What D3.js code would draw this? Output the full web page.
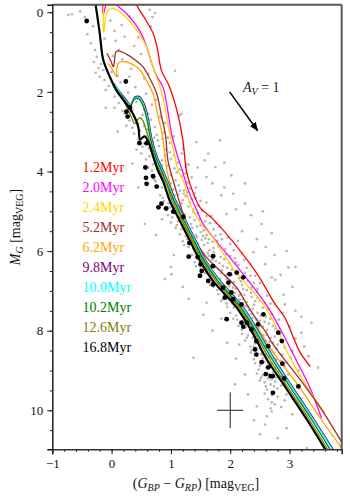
<!DOCTYPE html>
<html><head><meta charset="utf-8">
<script src="https://cdn.jsdelivr.net/npm/d3@7"></script>
<style>body{margin:0;background:#fff}svg{display:block}text{font-family:"Liberation Serif","DejaVu Serif",serif}</style>
</head><body><svg id="c" width="350" height="500"></svg>
<script>
// ---- data ----
const ages = ["1.2Myr","2.0Myr","2.4Myr","5.2Myr","6.2Myr","9.8Myr","10.0Myr","10.2Myr","12.6Myr","16.8Myr"];
const colors = ["#ff0000","#ff00ff","#ffd700","#a52a2a","#ffa500","#800080","#00ffff","#008000","#808000","#000000"];
const xTicks = [-1,0,1,2,3];
const yTicks = [0,2,4,6,8,10];

const iso1_2 = [[0.38,-0.6],[0.42,-0.2],[0.58,0.2],[0.7,0.53],[0.77,0.9],[0.84,1.46],[0.97,1.85],[1.1,2.46],[1.2,3.2],[1.26,3.97],[1.33,4.35],[1.49,4.9],[1.74,5.24],[2.42,6.5],[2.76,7.34],[2.92,7.67],[3.09,8.26],[3.18,8.55],[3.35,8.9]];
const iso2_0 = [[-0.16,-0.6],[-0.15,-0.1],[-0.14,0.06],[-0.12,-0.05],[-0.06,-0.35],[0.02,-0.4],[0.08,-0.2],[0.25,0.03],[0.4,0.3],[0.52,0.6],[0.61,0.95],[0.68,1.3],[0.76,1.6],[0.87,1.9],[0.95,2.5],[1.01,3.05],[1.1,3.55],[1.19,3.97],[1.3,4.5],[1.43,4.95],[1.545,5.32],[2.13,6.41],[2.64,7.42],[2.89,8.09],[3.12,8.76],[3.35,9.45],[3.54,10.2]];
const iso2_4 = [[-0.14,-0.6],[-0.14,0.0],[-0.14,0.45],[-0.13,0.5],[-0.1,0.1],[-0.06,-0.05],[0.0,-0.1],[0.1,-0.05],[0.2,0.07],[0.36,0.32],[0.53,0.7],[0.62,0.98],[0.68,1.3],[0.75,1.6],[0.81,1.85],[0.9,2.4],[0.98,3.05],[1.05,3.5],[1.12,3.97],[1.21,4.23],[1.32,4.8],[1.49,5.28],[1.7,5.65],[2.08,6.5],[2.56,7.34],[2.81,8.01],[2.95,8.5],[3.34,9.52],[3.6,10.07]];
const iso5_2 = [[-0.08,1.03],[-0.02,1.2],[0.03,1.37],[0.05,1.2],[0.07,1.0],[0.12,0.97],[0.25,1.05],[0.4,1.2],[0.53,1.37],[0.65,1.68],[0.76,2.04],[0.84,2.6],[0.91,3.1],[0.95,3.72],[1.07,4.39],[1.21,5.07],[1.38,5.66],[1.6,6.16],[1.77,6.41],[2.11,6.92],[2.28,7.34],[2.5,7.84],[2.59,8.01],[2.72,8.34],[3.2,9.27],[3.55,10.0],[3.92,10.9]];
const iso6_2 = [[-0.06,1.29],[0.02,1.45],[0.08,1.62],[0.09,1.4],[0.12,1.27],[0.25,1.25],[0.4,1.35],[0.48,1.45],[0.6,1.75],[0.7,2.05],[0.78,2.6],[0.85,3.05],[0.9,3.6],[0.93,3.95],[1.0,4.39],[1.15,5.07],[1.32,5.66],[1.53,6.16],[1.74,6.58],[2.03,7.08],[2.3,7.67],[2.5,8.01],[2.7,8.5],[3.18,9.44],[3.52,10.2],[3.88,10.95]];
const iso9_8 = [[0.04,1.79],[0.15,2.02],[0.26,2.22],[0.32,2.35],[0.35,2.24],[0.4,2.12],[0.47,2.12],[0.55,2.3],[0.62,2.68],[0.68,3.18],[0.77,3.63],[0.86,3.94],[0.96,4.29],[1.08,4.72],[1.25,5.23],[1.42,5.73],[1.59,6.23],[1.83,6.74],[2.22,7.41],[2.47,8.0],[2.73,8.67],[3.06,9.43],[3.42,10.24],[3.76,11.04]];
const iso10_0 = [[0.05,1.82],[0.15,2.05],[0.26,2.25],[0.32,2.38],[0.35,2.27],[0.4,2.15],[0.47,2.15],[0.54,2.33],[0.61,2.7],[0.67,3.2],[0.76,3.65],[0.85,3.95],[0.95,4.3],[1.07,4.73],[1.24,5.24],[1.41,5.74],[1.58,6.24],[1.82,6.75],[2.21,7.42],[2.46,8.01],[2.72,8.68],[3.05,9.44],[3.41,10.25],[3.75,11.05]];
const iso10_2 = [[0.04,1.84],[0.14,2.07],[0.25,2.27],[0.31,2.4],[0.34,2.3],[0.39,2.18],[0.46,2.18],[0.53,2.35],[0.6,2.73],[0.66,3.22],[0.75,3.67],[0.84,3.97],[0.93,4.3],[1.05,4.73],[1.22,5.24],[1.39,5.74],[1.56,6.24],[1.79,6.75],[2.18,7.42],[2.43,8.01],[2.69,8.68],[3.02,9.44],[3.38,10.25],[3.71,11.05]];
const iso12_6 = [[0.17,2.08],[0.26,2.4],[0.33,2.62],[0.39,2.8],[0.44,2.7],[0.48,2.65],[0.53,2.73],[0.58,2.95],[0.66,3.35],[0.74,3.75],[0.82,4.0],[0.91,4.25],[1.02,4.73],[1.19,5.24],[1.36,5.74],[1.53,6.24],[1.76,6.75],[2.15,7.42],[2.4,8.01],[2.65,8.68],[2.98,9.44],[3.34,10.25],[3.67,11.05]];
const iso16_8 = [[-0.31,-0.6],[-0.27,-0.2],[-0.2,0.53],[-0.14,1.2],[-0.03,1.62],[0.08,1.96],[0.2,2.21],[0.36,2.55],[0.45,2.88],[0.48,3.2],[0.52,3.15],[0.56,3.12],[0.62,3.26],[0.7,3.62],[0.78,3.97],[0.87,4.25],[0.98,4.73],[1.15,5.24],[1.32,5.74],[1.49,6.24],[1.71,6.75],[2.11,7.42],[2.36,8.01],[2.6,8.68],[2.94,9.44],[3.3,10.25],[3.63,11.05]];
const isochrones = [iso1_2,iso2_0,iso2_4,iso5_2,iso6_2,iso9_8,iso10_0,iso10_2,iso12_6,iso16_8];

const members = [[-0.42,0.22],[0.24,1.74],[0.31,2.39],[0.25,2.5],[0.27,2.62],[0.47,3.29],[0.59,3.29],[0.57,3.9],[0.58,4.16],[0.7,4.12],[0.59,4.31],[0.76,4.38],[0.84,4.81],[0.79,4.9],[0.92,4.93],[1.04,5.01],[1.21,5.14],[1.31,5.8],[1.3,6.14],[1.45,6.15],[1.71,6.13],[1.5,6.33],[1.52,6.5],[1.71,6.38],[1.49,6.62],[1.63,6.75],[1.99,6.58],[2.11,6.54],[1.71,6.84],[1.88,6.92],[1.97,6.79],[2.02,7.04],[1.91,7.17],[2.05,7.21],[2.19,7.34],[2.22,6.66],[1.94,7.71],[2.19,7.8],[2.28,7.8],[2.22,7.9],[2.36,7.97],[2.56,7.59],[2.47,7.84],[2.44,8.26],[2.64,8.39],[2.42,8.47],[2.81,8.05],[2.87,8.26],[2.44,8.6],[2.53,8.79],[2.64,8.92],[2.88,8.83],[2.6,9.09],[2.68,9.14],[2.72,9.14],[2.91,9.2],[3.15,9.4],[2.72,9.56]];

const field = [[-0.73,0.07],[-0.67,0.05],[-0.53,-0.02],[-0.45,0.12],[-0.31,0.35],[-0.02,0.21],[0.05,0.47],[0.17,0.32],[0.3,0.1],[0.64,-0.06],[0.69,0.12],[0.73,0.02],[0.66,0.36],
[-0.41,0.55],[-0.28,0.95],[-0.35,0.78],[-0.12,0.66],[0.07,0.72],[0.22,0.61],[0.38,0.85],[0.45,0.63],[0.12,0.95],
[-0.25,1.12],[-0.3,1.25],[-0.22,1.4],[-0.18,1.3],[-0.14,1.45],[-0.27,1.52],[0.02,1.1],[0.18,1.18],[0.33,1.42],[0.5,1.05],[0.62,1.55],[1.07,1.47],
[-0.2,1.62],[-0.12,1.7],[-0.05,1.85],[0.08,1.95],[0.15,1.76],[0.4,1.88],[0.55,1.66],[0.28,2.02],
[0.05,2.12],[0.12,2.28],[0.2,2.18],[0.26,2.35],[0.35,2.45],[0.42,2.25],[0.58,2.05],[0.68,2.32],[0.18,2.48],[0.31,2.3],[0.75,2.2],[0.05,2.4],
[0.22,2.55],[0.3,2.72],[0.38,2.62],[0.45,2.8],[0.52,2.58],[0.6,2.95],[0.66,2.7],[0.73,2.88],[0.82,2.62],[0.9,2.78],[0.35,2.9],[0.48,2.98],[1.15,2.59],[1.18,2.55],[0.25,2.85],
[0.38,3.05],[0.45,3.2],[0.52,3.38],[0.58,3.12],[0.63,3.42],[0.7,3.25],[0.76,3.08],[0.8,3.36],[0.86,3.18],[0.92,3.45],[0.98,3.28],[1.05,3.12],[0.67,3.48],[0.55,3.3],[0.42,3.45],[1.43,3.26],[1.83,3.22],[1.21,3.43],[0.88,3.02],[0.72,3.15],
[0.5,3.55],[0.58,3.7],[0.64,3.62],[0.7,3.82],[0.75,3.58],[0.8,3.95],[0.85,3.72],[0.9,3.6],[0.95,3.85],[1.0,3.68],[1.06,3.92],[1.12,3.78],[1.18,3.55],[1.25,3.88],[0.68,3.98],[0.78,3.75],[0.98,3.52],[1.63,3.55],[1.57,3.72],[1.9,3.78],[1.75,3.89],[1.26,3.81],[1.3,3.83],[0.62,3.9],
[0.68,4.1],[0.74,4.25],[0.8,4.05],[0.85,4.4],[0.9,4.18],[0.95,4.32],[1.0,4.08],[1.04,4.45],[1.08,4.22],[1.13,4.35],[1.18,4.12],[1.22,4.48],[1.28,4.28],[1.35,4.15],[1.42,4.4],[0.92,4.48],[1.0,4.3],[1.1,4.02],[1.6,4.14],[2.02,4.1],[0.78,4.38],[1.25,4.05],
[0.82,4.6],[0.88,4.75],[0.94,4.55],[0.98,4.9],[1.03,4.68],[1.08,4.82],[1.12,4.58],[1.16,4.95],[1.2,4.72],[1.25,4.62],[1.3,4.88],[1.35,4.7],[1.4,4.55],[1.46,4.85],[1.52,4.98],[1.05,4.98],[1.18,4.8],[1.28,4.52],[2.05,4.56],[2.25,4.81],[0.9,4.92],[1.38,4.96],[1.6,4.78],
[0.95,5.1],[1.0,5.28],[1.05,5.05],[1.1,5.35],[1.14,5.18],[1.18,5.45],[1.23,5.08],[1.27,5.3],[1.32,5.15],[1.36,5.42],[1.4,5.22],[1.45,5.05],[1.5,5.35],[1.55,5.48],[1.6,5.12],[1.66,5.3],[1.72,5.45],[1.22,5.4],[1.3,5.48],[1.38,5.02],[1.48,5.2],[1.94,5.07],[2.53,5.32],[0.56,5.32],[1.82,5.38],[1.12,5.25],
[1.15,5.58],[1.2,5.75],[1.25,5.62],[1.3,5.9],[1.35,5.55],[1.4,5.78],[1.44,5.65],[1.48,5.95],[1.52,5.72],[1.56,5.85],[1.6,5.6],[1.65,5.98],[1.7,5.76],[1.75,5.62],[1.8,5.88],[1.86,5.7],[1.92,5.95],[2.0,5.82],[1.38,5.95],[1.5,5.52],[1.62,5.8],[1.72,5.92],[2.13,5.74],[1.28,5.7],[1.58,5.68],[1.46,5.82],[2.06,5.98],
[1.35,6.1],[1.4,6.28],[1.45,6.05],[1.5,6.4],[1.55,6.2],[1.6,6.48],[1.64,6.12],[1.68,6.35],[1.72,6.02],[1.76,6.25],[1.8,6.45],[1.84,6.15],[1.88,6.38],[1.93,6.08],[1.98,6.3],[2.03,6.46],[2.08,6.18],[2.14,6.35],[2.2,6.05],[2.28,6.42],[1.58,6.32],[1.7,6.22],[1.82,6.3],[1.95,6.42],[1.62,6.05],[2.39,6.03],[2.59,6.33],[2.98,6.41],[1.0,6.4],[1.76,6.4],[1.9,6.2],[1.52,6.15],
[1.58,6.55],[1.62,6.72],[1.67,6.6],[1.72,6.9],[1.76,6.65],[1.8,6.82],[1.85,6.55],[1.9,6.95],[1.94,6.7],[1.98,6.88],[2.02,6.6],[2.06,6.78],[2.1,6.95],[2.15,6.68],[2.2,6.85],[2.25,6.55],[2.3,6.75],[2.36,6.92],[2.42,6.62],[2.5,6.8],[1.83,6.7],[1.95,6.58],[2.05,6.92],[2.12,6.52],[2.28,6.98],[1.88,6.85],[0.9,6.7],[1.01,6.58],[2.7,6.66],[2.76,6.72],[1.7,6.78],
[1.8,7.08],[1.85,7.25],[1.9,7.12],[1.95,7.4],[2.0,7.18],[2.04,7.32],[2.08,7.05],[2.12,7.45],[2.16,7.22],[2.2,7.38],[2.24,7.1],[2.28,7.28],[2.32,7.48],[2.36,7.15],[2.4,7.35],[2.45,7.02],[2.5,7.25],[2.55,7.42],[2.62,7.12],[2.68,7.32],[2.1,7.28],[2.22,7.2],[2.3,7.4],[2.42,7.26],[1.98,7.05],[2.92,7.34],[1.6,7.3],[2.15,7.12],[2.35,7.05],
[2.0,7.55],[2.05,7.7],[2.1,7.62],[2.14,7.88],[2.18,7.58],[2.22,7.75],[2.26,7.92],[2.3,7.6],[2.34,7.8],[2.38,7.68],[2.42,7.98],[2.46,7.55],[2.5,7.75],[2.55,7.9],[2.6,7.65],[2.65,7.82],[2.7,7.58],[2.76,7.95],[2.82,7.72],[2.28,7.7],[2.4,7.85],[2.52,7.62],[2.44,7.72],[3.37,7.8],[1.85,7.7],[2.62,7.98],[2.2,7.98],
[2.2,8.08],[2.25,8.25],[2.3,8.12],[2.34,8.4],[2.38,8.18],[2.42,8.32],[2.46,8.05],[2.5,8.45],[2.54,8.22],[2.58,8.38],[2.62,8.1],[2.66,8.28],[2.7,8.48],[2.75,8.15],[2.8,8.35],[2.86,8.22],[2.92,8.42],[2.48,8.3],[2.56,8.12],[2.64,8.42],[3.2,8.05],[2.36,8.48],[2.72,8.3],[2.15,8.35],
[2.35,8.55],[2.4,8.72],[2.45,8.62],[2.5,8.88],[2.54,8.6],[2.58,8.78],[2.62,8.95],[2.66,8.65],[2.7,8.82],[2.74,8.55],[2.78,8.72],[2.83,8.92],[2.88,8.6],[2.95,8.8],[3.02,8.68],[2.55,8.7],[2.68,8.9],[1.38,8.68],[3.32,8.64],[3.48,8.93],[2.48,8.98],
[2.45,9.08],[2.5,9.25],[2.55,9.12],[2.6,9.4],[2.64,9.2],[2.68,9.35],[2.72,9.05],[2.76,9.28],[2.8,9.45],[2.85,9.15],[2.9,9.32],[2.98,9.1],[2.62,9.48],[2.08,9.35],[2.7,9.22],[2.82,9.02],
[2.58,9.58],[2.64,9.72],[2.7,9.62],[2.75,9.85],[2.8,9.66],[2.86,9.92],[2.92,9.75],[2.68,9.95],[2.7,10.03],
[2.59,10.36],[2.62,10.15],[2.95,10.45],[3.29,10.95],[2.5,10.6],
[0.86,4.66],[0.96,4.8],[1.06,4.6],[1.14,4.88],[1.22,4.56],[1.32,4.78],[1.42,4.66],[1.5,4.74],[1.02,5.15],[1.08,5.42],[1.2,5.22],[1.34,5.32],[1.44,5.38],[1.58,5.25],[1.68,5.12],[1.76,5.3],
[1.22,5.85],[1.33,5.68],[1.42,5.6],[1.54,5.62],[1.64,5.7],[1.78,5.74],[1.84,5.58],[1.96,5.66],[1.42,6.38],[1.48,6.22],[1.66,6.42],[1.74,6.12],[1.86,6.48],[2.0,6.12],[2.1,6.28],[2.24,6.22],[2.34,6.32],
[1.66,6.85],[1.78,6.98],[1.92,6.62],[2.0,6.75],[2.18,6.76],[2.22,6.95],[2.34,6.62],[2.4,6.8],[2.46,6.95],[1.88,7.2],[1.94,7.32],[2.06,7.42],[2.18,7.08],[2.26,7.38],[2.38,7.45],[2.46,7.18],[2.58,7.3],[2.64,7.45],
[2.12,7.72],[2.24,7.65],[2.36,7.58],[2.48,7.92],[2.58,7.78],[2.68,7.7],[2.72,7.88],[2.28,8.18],[2.4,8.4],[2.52,8.36],[2.6,8.25],[2.68,8.18],[2.78,8.45],[2.84,8.08],
[2.42,8.82],[2.52,8.58],[2.6,8.62],[2.64,8.82],[2.72,8.68],[2.76,8.95],[2.86,8.75],[2.92,8.9],[2.52,9.18],[2.58,9.3],[2.66,9.1],[2.74,9.4],[2.78,9.18],[2.86,9.38],[2.94,9.25],
[0.0,1.5],[0.1,1.6],[-0.1,1.95],[0.3,1.62],[0.45,2.12],[0.55,2.45],[0.62,2.55],[0.4,2.7],[0.55,2.85],[0.65,3.05],[0.78,3.22],[0.95,3.15],[0.85,3.85],[1.05,3.6],[1.15,3.95],[0.72,4.2],[0.88,4.28],[1.15,4.48],[1.32,4.42],
[1.45,3.9],[1.7,4.3],[1.85,4.6],[2.1,4.95],[2.35,5.1],[2.2,5.5],[2.45,5.7],[2.6,5.9],[2.75,6.1],[2.85,6.6],[3.05,6.9],[2.9,7.1],[3.1,7.5],[3.2,7.65],[3.0,7.9],[3.1,8.2],[3.25,8.4],[3.05,8.5],[3.15,9.0],[3.2,9.7],[1.55,7.6],[1.7,8.0],[1.95,8.3],[2.1,8.7],[2.25,9.1],[2.3,9.6],[2.45,9.9],[1.2,6.9],[1.3,7.2],[1.05,6.1],[0.75,5.6],[0.85,5.2],[0.45,4.4],[0.35,3.8],[0.1,3.0],[-0.1,2.4],[1.9,4.4],[2.25,4.3],[2.55,5.0],[2.7,5.55],[2.95,6.0],[3.1,6.4],[2.88,7.55],[2.7,9.8],[2.95,9.6],[3.05,10.1],[2.4,10.25],[2.8,10.7]];

const reddening = [[1.99,2.0],[2.46,2.97]];
const errorBar = {x:2.0, y:10.0, dx:0.22, dy:0.45};

// ---- chart ----
const svg = d3.select("#c");
const L=52.3,R=341.7,T=4.7,B=449.3;
const x = d3.scaleLinear().domain([-1,3.88]).range([L,R]);
const y = d3.scaleLinear().domain([-0.19,10.98]).range([T,B]);

svg.append("defs").append("clipPath").attr("id","clip").append("rect")
  .attr("x",L).attr("y",T).attr("width",R-L).attr("height",B-T);
svg.select("defs").append("marker").attr("id","ah").attr("viewBox","0 0 10 10")
  .attr("refX",9).attr("refY",5).attr("markerWidth",6).attr("markerHeight",6).attr("orient","auto")
  .append("path").attr("d","M0,1 L10,5 L0,9 z").attr("fill","#000");

const g = svg.append("g").attr("clip-path","url(#clip)");
g.selectAll("circle.f").data(field).join("circle").attr("class","f")
  .attr("cx",d=>x(d[0])).attr("cy",d=>y(d[1])).attr("r",1.35)
  .attr("fill","#999").attr("fill-opacity",0.7);

const line = d3.line().x(d=>x(d[0])).y(d=>y(d[1])).curve(d3.curveCatmullRom.alpha(0.5));
isochrones.forEach((iso,i)=>{
  g.append("path").datum(iso).attr("d",line).attr("fill","none")
   .attr("stroke",colors[i]).attr("stroke-width",i===9?2.2:1.3);
});

g.selectAll("circle.m").data(members).join("circle").attr("class","m")
  .attr("cx",d=>x(d[0])).attr("cy",d=>y(d[1])).attr("r",2.4).attr("fill","#000");

// reddening arrow
svg.append("line").attr("x1",x(reddening[0][0])).attr("y1",y(reddening[0][1]))
  .attr("x2",x(reddening[1][0])).attr("y2",y(reddening[1][1]))
  .attr("stroke","#000").attr("stroke-width",1.5).attr("marker-end","url(#ah)");
const av = svg.append("text").attr("x",243).attr("y",92).attr("font-size",14).attr("fill","#222");
av.append("tspan").attr("font-style","italic").text("A");
av.append("tspan").attr("font-style","italic").attr("font-size",10).attr("dy",3).text("V");
av.append("tspan").attr("dy",-3).text(" = 1");

// error cross
svg.append("line").attr("x1",x(errorBar.x-errorBar.dx)).attr("x2",x(errorBar.x+errorBar.dx))
  .attr("y1",y(errorBar.y)).attr("y2",y(errorBar.y)).attr("stroke","#222").attr("stroke-width",1);
svg.append("line").attr("x1",x(errorBar.x)).attr("x2",x(errorBar.x))
  .attr("y1",y(errorBar.y-errorBar.dy)).attr("y2",y(errorBar.y+errorBar.dy)).attr("stroke","#222").attr("stroke-width",1);

// legend
ages.forEach((a,i)=>{
  svg.append("text").attr("x",82.5).attr("y",172+20*i).attr("font-size",14)
    .attr("fill",colors[i]).text(a);
});

// frame
svg.append("line").attr("x1",L).attr("x2",R).attr("y1",T).attr("y2",T).attr("stroke","#555").attr("stroke-width",2);
svg.append("line").attr("x1",R).attr("x2",R).attr("y1",T).attr("y2",B).attr("stroke","#555").attr("stroke-width",2);

// axes
const xMinor = d3.range(-1,3.881,0.2);
const yMinor = d3.range(0,10.99,0.5);
const ax = svg.append("g").attr("transform",`translate(0,${B})`)
  .call(d3.axisBottom(x).tickValues(xMinor).tickSize(2.5).tickFormat(""));
ax.select(".domain").remove();
const axM = svg.append("g").attr("transform",`translate(0,${B})`)
  .call(d3.axisBottom(x).tickValues(xTicks).tickSize(5).tickPadding(4).tickFormat(d=>d<0?"\u2212"+Math.abs(d):d));
axM.selectAll("text").attr("font-size",13).attr("font-family","Liberation Serif, serif").attr("fill","#111");
const ay = svg.append("g").attr("transform",`translate(${L},0)`)
  .call(d3.axisLeft(y).tickValues(yMinor).tickSize(2.5).tickFormat(""));
ay.select(".domain").remove();
const ayM = svg.append("g").attr("transform",`translate(${L},0)`)
  .call(d3.axisLeft(y).tickValues(yTicks).tickSize(5).tickPadding(4));
ayM.selectAll("text").attr("font-size",13).attr("font-family","Liberation Serif, serif").attr("fill","#111");
[ax,axM,ay,ayM].forEach(a=>{a.selectAll("line").attr("stroke","#222").attr("stroke-width",1);});
axM.select(".domain").attr("stroke","#333").attr("stroke-width",1.6);
ayM.select(".domain").attr("stroke","#111").attr("stroke-width",1.4);

// axis labels
const xl = svg.append("text").attr("x",196).attr("y",488).attr("text-anchor","middle").attr("font-size",14).attr("fill","#111");
xl.append("tspan").text("(");
xl.append("tspan").attr("font-style","italic").text("G");
xl.append("tspan").attr("font-style","italic").attr("font-size",10).attr("dy",3).text("BP");
xl.append("tspan").attr("dy",-3).text(" \u2212 ");
xl.append("tspan").attr("font-style","italic").text("G");
xl.append("tspan").attr("font-style","italic").attr("font-size",10).attr("dy",3).text("RP");
xl.append("tspan").attr("dy",-3).text(") [mag");
xl.append("tspan").attr("font-size",10).attr("dy",3).text("VEG");
xl.append("tspan").attr("dy",-3).text("]");

const yl = svg.append("text").attr("transform","translate(20,227) rotate(-90)").attr("text-anchor","middle").attr("font-size",14).attr("fill","#111");
yl.append("tspan").attr("font-style","italic").text("M");
yl.append("tspan").attr("font-style","italic").attr("font-size",10).attr("dy",3).text("G");
yl.append("tspan").attr("dy",-3).text(" [mag");
yl.append("tspan").attr("font-size",10).attr("dy",3).text("VEG");
yl.append("tspan").attr("dy",-3).text("]");
</script></body></html>
